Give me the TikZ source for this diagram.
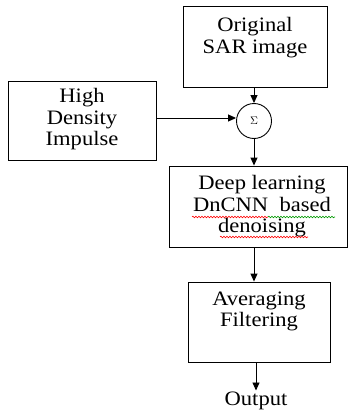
\documentclass[tikz,border=0pt]{standalone}
\usepackage{fontspec}
\setmainfont{Liberation Serif}[FakeStretch=1.1]
\usetikzlibrary{arrows.meta,decorations.pathmorphing}
\begin{document}
\begin{tikzpicture}[x=1pt,y=1pt,
  box/.style={draw,line width=0.9pt,rectangle,inner sep=0pt},
  txt/.style={inner sep=0pt,align=center,font=\fontsize{20.5}{21.5}\selectfont,anchor=north},
  arr/.style={-{Triangle[length=8pt,width=7pt]},line width=0.9pt},
  wavy/.style={decorate,decoration={snake,amplitude=0.8pt,segment length=3pt},line width=0.6pt}]
\useasboundingbox (0,0) rectangle (355,-412);
% boxes
\node[box,minimum width=144pt,minimum height=81pt] (sar) at (255,-46.5) {};
\node[box,minimum width=148pt,minimum height=79pt] (hdi) at (82,-120.5) {};
\node[draw,circle,line width=0.9pt,minimum size=35pt,inner sep=0pt,font=\fontsize{11}{11}\selectfont] (sum) at (254,-121) {$\Sigma$};
\node[box,minimum width=178pt,minimum height=81pt] (dn) at (258,-206.5) {};
\node[box,minimum width=142pt,minimum height=80pt] (avg) at (259,-322) {};
% texts
\node[txt] (sart) at (255,-17.5) {Original\\SAR image};
\node[txt] (hdit) at (82,-88.5) {High\\Density\\Impulse};
\node[txt] (dnt) at (262,-175.5) {Deep learning\\DnCNN\ \ based\\denoising};
\node[txt] (avgt) at (259,-291.5) {Averaging\\Filtering};
\node[txt] (out) at (256,-391.5) {Output};
% spell-check marks
\coordinate (r1a) at (192,-217); \coordinate (r1b) at (268,-217);
\coordinate (g1a) at (268,-217); \coordinate (g1b) at (335,-217);
\coordinate (r2a) at (220,-237); \coordinate (r2b) at (308,-237);
\draw[wavy,red] (r1a) -- (r1b);
\draw[wavy,green!60!black] (g1a) -- (g1b);
\draw[wavy,red] (r2a) -- (r2b);
% arrows
\draw[arr] (sum |- sar.south) -- (sum.north);
\draw[arr] (hdi.east |- 0,-118) -- (sum.west |- 0,-118);
\draw[arr] (sum.south) -- (sum |- dn.north);
\draw[arr] (sum |- dn.south) -- (sum |- avg.north);
\draw[arr] (out |- avg.south) -- ([yshift=1pt]out.north);
\end{tikzpicture}
\end{document}
